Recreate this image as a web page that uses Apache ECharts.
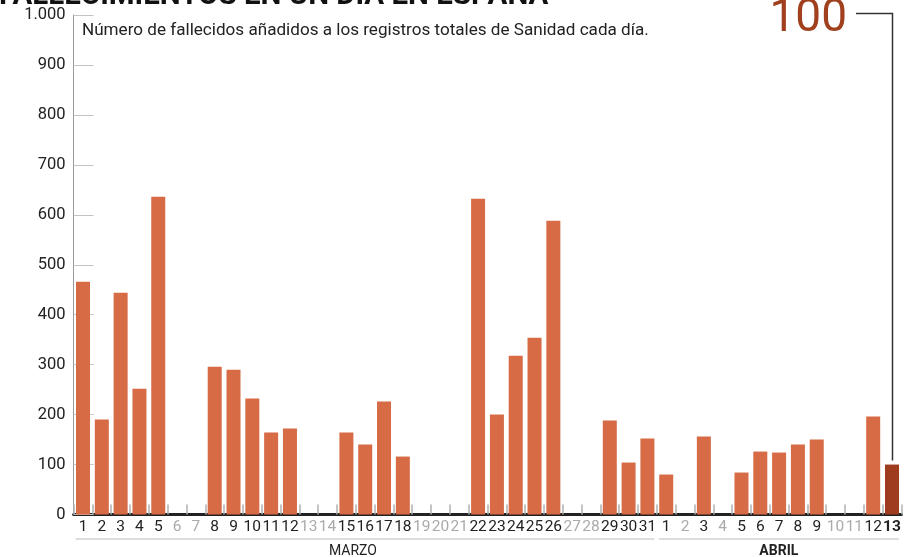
<!DOCTYPE html>
<html><head><meta charset="utf-8">
<script src="https://cdn.jsdelivr.net/npm/echarts@6/dist/echarts.min.js"></script>
<style>html,body{margin:0;padding:0;background:#fff}#c{width:909px;height:557px}</style>
</head><body><div id="c"></div>
<script>
const titleText = 'FALLECIMIENTOS EN UN DÍA EN ESPAÑA';
const subtitleText = 'Número de fallecidos añadidos a los registros totales de Sanidad cada día.';
const monthNames = ['MARZO', 'ABRIL'];
const monthDays = [31, 13];
const dayLabels = [
  '1','2','3','4','5','6','7','8','9','10','11','12','13','14','15','16','17','18','19','20',
  '21','22','23','24','25','26','27','28','29','30','31',
  '1','2','3','4','5','6','7','8','9','10','11','12','13'
];
const deaths = [
  466,190,444,252,636,0,0,296,290,232,164,172,0,0,164,140,226,116,0,0,
  0,632,200,318,354,588,0,0,188,104,152,
  80,0,156,0,84,126,124,140,150,0,0,196,100
];
const yTickValues = [0,100,200,300,400,500,600,700,800,900,1000];

const ORANGE = '#d66b45', DARK = '#9f3c20';
const last = deaths.length - 1;
const monthIdx = [];
monthDays.forEach((n, m) => { for (let i = 0; i < n; i++) monthIdx.push(m); });
const categories = dayLabels.map((d, i) => monthNames[monthIdx[i]] + '-' + d);

const chart = echarts.init(document.getElementById('c'), null, {renderer: 'canvas'});
const FONT = 'Roboto, "Noto Sans", sans-serif';

const option = {
  animation: false,
  backgroundColor: '#fff',
  grid: {left: 73.6, right: 7.6, top: 15, bottom: 42.5, containLabel: false},
  xAxis: {
    type: 'category',
    data: categories,
    boundaryGap: true,
    axisLine: {show: true, lineStyle: {color: '#222', width: 3}},
    axisTick: {show: true, inside: true, length: 10, lineStyle: {color: '#b0b0b0', width: 1.5}},
    axisLabel: {
      interval: 0, margin: 5,
      formatter: (v, i) => {
        const t = dayLabels[i];
        if (i === last) return '{b|' + t + '}';
        return deaths[i] === 0 ? '{m|' + t + '}' : '{n|' + t + '}';
      },
      rich: {
        n: {color: '#222', fontSize: 15.5, fontFamily: FONT},
        m: {color: '#aaa', fontSize: 15.5, fontFamily: FONT},
        b: {color: '#222', fontSize: 15.5, fontFamily: FONT, fontWeight: 'bold'}
      }
    },
    splitLine: {show: false}
  },
  yAxis: {
    type: 'value',
    min: yTickValues[0], max: yTickValues[yTickValues.length - 1], interval: 100,
    axisLine: {show: true, lineStyle: {color: '#999', width: 1}},
    axisTick: {show: true, inside: true, length: 20, lineStyle: {color: '#c4c4c4', width: 1}},
    axisLabel: {
      margin: 8, color: '#222', fontSize: 16.5, fontFamily: FONT,
      formatter: v => v >= 1000 ? String(v).replace(/\B(?=(\d{3})+(?!\d))/g, '.') : String(v)
    },
    splitLine: {show: false}
  },
  series: [{
    type: 'bar',
    barWidth: 14,
    data: deaths.map((v, i) => i === last ? {value: v, itemStyle: {color: DARK}} : v),
    itemStyle: {color: ORANGE},
    z: 3
  }]
};
chart.setOption(option);

// Annotations computed from the axes
const center = i => chart.convertToPixel({xAxisIndex: 0}, i);
const step = center(1) - center(0);
const baseY = chart.convertToPixel({yAxisIndex: 0}, 0);
const topLastY = chart.convertToPixel({yAxisIndex: 0}, deaths[last]);
const lastX = center(last);

const graphics = [
  {type: 'text', x: -1, y: -3.8, style: {text: titleText, font: 'bold 29.5px ' + FONT, fill: '#111', verticalAlign: 'middle'}},
  {type: 'rect', shape: {x: 76, y: 20, width: 590, height: 22}, style: {fill: '#fff'}, z: 10},
  {type: 'text', x: 82, y: 31, style: {text: subtitleText, font: '17.1px ' + FONT, fill: '#222', verticalAlign: 'middle'}, z: 11},
  {type: 'text', x: lastX - 45, y: 19.5, style: {text: String(deaths[last]), font: '46px ' + FONT, fill: '#a0401f', align: 'right', verticalAlign: 'middle'}, z: 11},
  {type: 'polyline', shape: {points: [[lastX - 36, 13.5], [lastX + 0.5, 13.5], [lastX + 0.5, topLastY - 4]]}, style: {stroke: '#333', lineWidth: 1.5, fill: null}, z: 11}
];
let start = 0;
monthDays.forEach((n, m) => {
  const x0 = center(start) - step / 2 + 2;
  const x1 = center(start + n - 1) + step / 2 - 2.5;
  graphics.push({type: 'line', shape: {x1: x0, y1: baseY + 24.5, x2: x1, y2: baseY + 24.5}, style: {stroke: '#bbb', lineWidth: 1}});
  graphics.push({type: 'text', x: (x0 + x1) / 2 - (m === 0 ? 12 : 0), y: baseY + 37, style: {text: monthNames[m], font: (m === monthDays.length - 1 ? 'bold ' : '') + '14px ' + FONT, fill: '#222', align: 'center', verticalAlign: 'middle'}});
  start += n;
});
chart.setOption({graphic: graphics});
</script>
</body></html>
